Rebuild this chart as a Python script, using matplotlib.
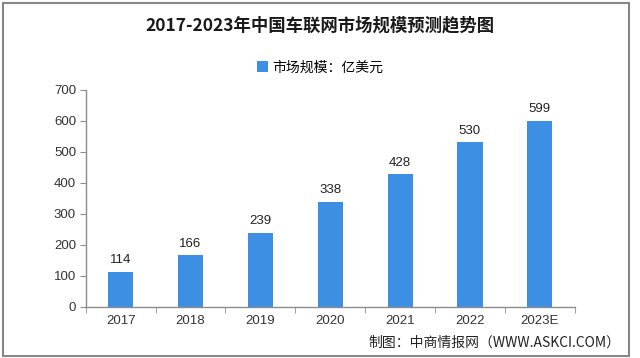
import matplotlib
matplotlib.use("Agg")
import matplotlib.pyplot as plt
from matplotlib.patches import Rectangle
import numpy as np

plt.rcParams['font.family'] = ['Noto Sans CJK SC', 'DejaVu Sans']

categories = ["2017", "2018", "2019", "2020", "2021", "2022", "2023E"]
values = [114, 166, 239, 338, 428, 530, 599]
yticks = [0, 100, 200, 300, 400, 500, 600, 700]
title = "2017-2023年中国车联网市场规模预测趋势图"
legend_label = "市场规模：亿美元"
source = "制图：中商情报网（WWW.ASKCI.COM）"

bar_color = "#3D8FE4"
axis_color = "#8C8C8C"

fig = plt.figure(figsize=(6.4, 3.58), dpi=100)
ax = fig.add_axes([0.134, 0.1425, 0.764, 0.607])

x = np.arange(len(categories))
bars = ax.bar(x, values, width=0.36, color=bar_color, label=legend_label, zorder=2)
for xi, v in zip(x, values):
    ax.text(xi, v + 18, str(v), ha='center', va='bottom', fontsize=9.5,
            family=['Liberation Sans', 'DejaVu Sans'], color='#222222')

ax.set_xlim(-0.5, len(categories) - 0.5)
ax.set_ylim(0, 700)
ax.set_yticks(yticks)
ax.set_yticklabels([str(t) for t in yticks], family=['Liberation Sans', 'DejaVu Sans'], fontsize=9.5, color='#333333')
ax.set_xticks(x)
ax.set_xticklabels(categories, family=['Liberation Sans', 'DejaVu Sans'], fontsize=9.5, color='#333333')
ax.tick_params(axis='x', length=0, pad=6)
ax.set_xticks(np.arange(len(categories) + 1) - 0.5, minor=True)
ax.tick_params(axis='x', which='minor', length=4, color=axis_color, direction='out')
ax.tick_params(axis='y', length=4, color=axis_color, direction='out', pad=3)
for s in ['top', 'right']:
    ax.spines[s].set_visible(False)
for s in ['left', 'bottom']:
    ax.spines[s].set_color(axis_color)
    ax.spines[s].set_linewidth(1)

fig.text(0.5, 0.928, title, ha='center', va='center', fontsize=12.5, fontweight='bold', color='#1a1a1a')

handles, labels = ax.get_legend_handles_labels()
fig.legend(handles, labels, loc='center', bbox_to_anchor=(0.5, 0.812), frameon=False,
           fontsize=10, handlelength=0.8, handleheight=0.8, handletextpad=0.3)

fig.text(0.969, 0.042, source, ha='right', va='center', fontsize=10, color='#222222')

fig.patches.append(Rectangle((0.004, 0.006), 0.979, 0.985, transform=fig.transFigure,
                             fill=False, edgecolor='#888888', linewidth=1.5))

fig.savefig("out.png", dpi=100, facecolor='white')
